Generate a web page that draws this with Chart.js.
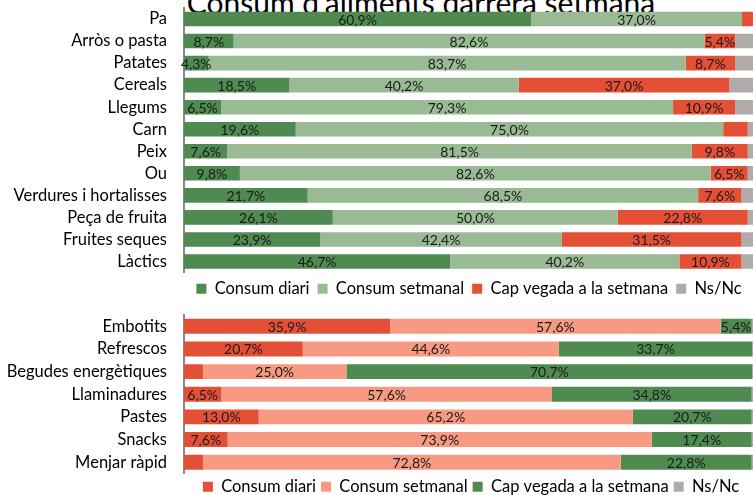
<!DOCTYPE html>
<html lang="ca">
<head>
    <meta charset="UTF-8">
    <title>Consum d'aliments darrera setmana</title>
    <script src="https://cdn.jsdelivr.net/npm/chart.js"></script>
    <style>
        body {
            margin: 0;
            width: 753px;
            height: 495px;
            overflow: hidden;
            position: relative;
            background: #fff;
            font-family: Lato, sans-serif;
        }
        .title {
            position: absolute;
            left: 0;
            width: 842px;
            top: -13px;
            text-align: center;
            font-size: 30px;
            line-height: 30px;
            color: #000;
            white-space: nowrap;
        }
        .box {
            position: absolute;
            left: 0;
            width: 770px;
        }
    </style>
</head>
<body>
    <div class="title">Consum d'aliments darrera setmana</div>
    <div class="box" style="top:0; height:307px;">
        <canvas id="topChart"></canvas>
    </div>
    <div class="box" style="top:307px; height:198px;">
        <canvas id="bottomChart"></canvas>
    </div>
    <script>
        // aliments de consum habitual
        const topCats = ['Pa', 'Arròs o pasta', 'Patates', 'Cereals', 'Llegums', 'Carn', 'Peix', 'Ou',
            'Verdures i hortalisses', 'Peça de fruita', 'Fruites seques', 'Làctics'];
        const topDiari     = [60.9, 8.7, 4.3, 18.5, 6.5, 19.6, 7.6, 9.8, 21.7, 26.1, 23.9, 46.7];
        const topSetmanal  = [37.0, 82.6, 83.7, 40.2, 79.3, 75.0, 81.5, 82.6, 68.5, 50.0, 42.4, 40.2];
        const topCap       = [2.2, 5.4, 8.7, 37.0, 10.9, 4.3, 9.8, 6.5, 7.6, 22.8, 31.5, 10.9];
        const topNsNc      = [0, 3.3, 3.3, 4.3, 3.3, 1.1, 1.1, 1.1, 2.2, 1.1, 2.2, 2.2];

        // aliments poc saludables
        const botCats = ['Embotits', 'Refrescos', 'Begudes energètiques', 'Llaminadures', 'Pastes', 'Snacks', 'Menjar ràpid'];
        const botDiari     = [35.9, 20.7, 3.3, 6.5, 13.0, 7.6, 3.3];
        const botSetmanal  = [57.6, 44.6, 25.0, 57.6, 65.2, 73.9, 72.8];
        const botCap       = [5.4, 33.7, 70.7, 34.8, 20.7, 17.4, 22.8];
        const botNsNc      = [1.1, 1.0, 1.0, 1.1, 1.1, 1.1, 1.1];

        const seriesNames = ['Consum diari', 'Consum setmanal', 'Cap vegada a la setmana', 'Ns/Nc'];
        // etiquetes que no es mostren: [serie, categoria]
        const hiddenLabels = [['Cap vegada a la setmana', 'Carn']];

        const GREEN = '#4f8a51';
        const LIGHT_GREEN = '#99ba95';
        const RED = '#e45036';
        const SALMON = '#f79a81';
        const GREY = '#afabab';
        const FONT = 'Lato';

        const barLabels = {
            id: 'barLabels',
            afterDatasetsDraw(chart) {
                const ctx = chart.ctx;
                ctx.save();
                ctx.font = '14px ' + FONT;
                ctx.fillStyle = '#1a1a1a';
                ctx.textAlign = 'center';
                ctx.textBaseline = 'middle';
                chart.data.datasets.forEach((ds, di) => {
                    if (ds.label === 'Ns/Nc') return;
                    const meta = chart.getDatasetMeta(di);
                    meta.data.forEach((bar, i) => {
                        const v = ds.data[i];
                        const cat = chart.data.labels[i];
                        if (v < 4) return;
                        if (hiddenLabels.some(h => h[0] === ds.label && h[1] === cat)) return;
                        const txt = v.toFixed(1).replace('.', ',') + '%';
                        ctx.fillText(txt, (bar.x + bar.base) / 2, bar.y + 1);
                    });
                });
                ctx.restore();
            }
        };

        function makeChart(id, cats, series, colors, padRight, legendPad) {
            return new Chart(document.getElementById(id), {
                type: 'bar',
                data: {
                    labels: cats,
                    datasets: series.map((d, i) => ({
                        label: seriesNames[i],
                        data: d,
                        backgroundColor: colors[i],
                        barPercentage: 0.66,
                        categoryPercentage: 1
                    }))
                },
                options: {
                    indexAxis: 'y',
                    responsive: true,
                    maintainAspectRatio: false,
                    animation: false,
                    layout: { padding: { top: 8, right: padRight, bottom: 0, left: 0 } },
                    scales: {
                        x: { stacked: true, min: 0, max: 100, display: false },
                        y: {
                            stacked: true,
                            grid: { display: false },
                            border: { display: true, color: '#8a8a8a', width: 2 },
                            ticks: { color: '#000', autoSkip: false, font: { family: FONT, size: 16.5 }, padding: 9 },
                            afterFit(scale) {
                                scale.width = 184;
                                scale.paddingTop = 0;
                                scale.paddingBottom = 0;
                            }
                        }
                    },
                    plugins: {
                        legend: {
                            position: 'bottom',
                            fullSize: false,
                            labels: {
                                color: '#000',
                                boxWidth: 10,
                                boxHeight: 10,
                                padding: legendPad,
                                font: { family: FONT, size: 16.5 }
                            }
                        },
                        tooltip: { enabled: false }
                    }
                },
                plugins: [barLabels]
            });
        }

        makeChart('topChart', topCats, [topDiari, topSetmanal, topCap, topNsNc],
            [GREEN, LIGHT_GREEN, RED, GREY], 16, 8);
        makeChart('bottomChart', botCats, [botDiari, botSetmanal, botCap, botNsNc],
            [RED, SALMON, GREEN, GREY], 12, 5);
    </script>
</body>
</html>
